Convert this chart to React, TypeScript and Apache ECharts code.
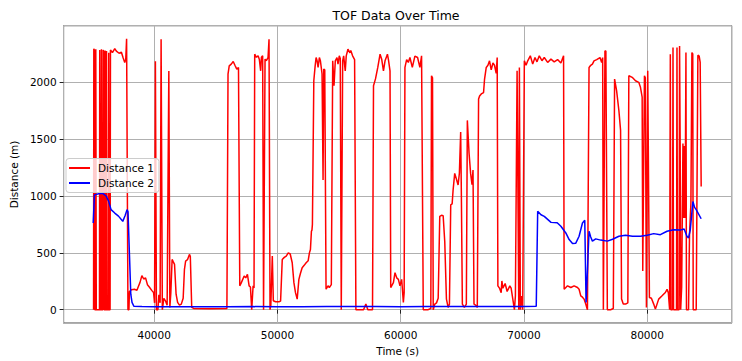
import React, { useEffect, useRef } from "react";
import * as echarts from "echarts";

const distance1: [number, number][] = [
  [35080, 0], [35100, 2295], [35160, 2280], [35180, 0], [35240, 0], [35260, 2290], [35300, 0],
  [35560, 0], [35580, 2285], [35640, 0], [35700, 0], [35720, 2290], [35760, 0], [35840, 0],
  [35860, 2285], [35900, 2270], [35930, 0], [35990, 0], [36010, 2280], [36050, 0], [36110, 0],
  [36130, 2275], [36170, 0], [36290, 0], [36310, 2260], [36340, 0], [36420, 0], [36450, 2285],
  [36610, 2262], [36800, 2297], [36930, 2275], [37150, 2256], [37340, 2265], [37470, 2218],
  [37610, 2175], [37690, 2200], [37760, 2384], [37870, 0], [37950, 0], [37990, 160], [38150, 175],
  [38400, 180], [38600, 170], [38700, 200], [38850, 240], [39000, 300], [39150, 270], [39300, 280],
  [39450, 220], [39600, 200], [39800, 170], [39950, 150], [40030, 60], [40097, 2185], [40180, 0],
  [40300, 0], [40380, 130], [40480, 60], [40560, 2378], [40660, 0], [40780, 100], [40900, 80],
  [41050, 40], [41187, 2100], [41270, 20], [41350, 150], [41453, 442], [41550, 420], [41650, 398],
  [41776, 136], [41900, 64], [42050, 40], [42200, 49], [42350, 100], [42454, 355], [42550, 428],
  [42700, 440], [42858, 486], [42930, 470], [43044, 20], [43200, 11], [44500, 8], [45900, 11],
  [45990, 2073], [46088, 2145], [46250, 2160], [46411, 2183], [46550, 2150], [46700, 2116],
  [46839, 2130], [46944, 210], [47081, 240], [47299, 297], [47428, 280], [47565, 311], [47702, 210],
  [47808, 200], [47913, 0], [48025, 210], [48100, 190], [48155, 2247], [48292, 2220], [48429, 2233],
  [48534, 2200], [48639, 2101], [48700, 2220], [48800, 2233], [48873, 0], [48994, 2204],
  [49099, 2190], [49237, 2218], [49317, 2378], [49398, 0], [49463, 40], [49584, 472], [49665, 79],
  [49850, 70], [50125, 70], [50254, 75], [50391, 442], [50553, 460], [50714, 472], [50876, 500],
  [51037, 490], [51199, 413], [51336, 238], [51465, 150], [51602, 93], [51740, 267], [51869, 320],
  [52006, 369], [52168, 390], [52329, 413], [52491, 430], [52596, 500], [52677, 530], [52757, 690],
  [52800, 700], [52838, 750], [52951, 2014], [53056, 2140], [53137, 2218], [53217, 2190],
  [53298, 2131], [53403, 2218], [53484, 2190], [53621, 2073], [53702, 1141], [53758, 2116],
  [53839, 2110], [53944, 180], [54105, 210], [54210, 195], [54372, 220], [54485, 2189],
  [54590, 1970], [54695, 2189], [54832, 2218], [54913, 2160], [55018, 2233], [55098, 2210],
  [55179, 0], [55292, 2189], [55373, 2233], [55502, 2101], [55583, 2233], [55720, 2291],
  [55882, 2260], [55950, 2280], [56099, 2233], [56261, 2200], [56366, 0], [56987, 0], [57174, 49],
  [57335, 0], [57714, 0], [57795, 1970], [57956, 2030], [58142, 2131], [58328, 2247], [58465, 2200],
  [58602, 2101], [58731, 2189], [58925, 2247], [59006, 2200], [59135, 2101], [59192, 195],
  [59410, 238], [59539, 326], [59676, 280], [59813, 267], [59942, 210], [60080, 267], [60217, 64],
  [60282, 150], [60346, 2131], [60484, 2200], [60621, 2175], [60750, 2218], [60944, 2131],
  [61154, 2230], [61372, 2218], [61558, 2131], [61695, 2233], [61832, 0], [62236, 0], [62446, 10],
  [62502, 2058], [62583, 2040], [62640, 0], [62769, 49], [62906, 60], [63043, 100], [63172, 821],
  [63310, 830], [63447, 826], [63576, 600], [63713, 93], [63851, 20], [63956, 49], [64061, 922],
  [64174, 930], [64254, 1053], [64384, 1199], [64521, 1150], [64658, 1097], [64763, 1200],
  [64868, 1563], [64925, 1000], [65005, 49], [65167, 20], [65328, 49], [65409, 1665], [65546, 1380],
  [65675, 1199], [65788, 1100], [65869, 1228], [65950, 49], [66079, 40], [66216, 20], [66321, 1854],
  [66402, 1880], [66539, 1898], [66725, 1910], [66806, 2029], [66943, 2131], [67080, 2150],
  [67209, 2189], [67347, 2110], [67484, 2170], [67613, 2150], [67750, 2080], [67831, 2218],
  [67887, 210], [68016, 190], [68154, 150], [68211, 253], [68291, 190], [68477, 230], [68638, 160],
  [68856, 210], [68962, 190], [69099, 93], [69228, 0], [69309, 120], [69446, 2101], [69502, 2101],
  [69583, 0], [69632, 2131], [69712, 0], [69793, 120], [69900, 0], [70035, 2189], [70172, 2150],
  [70309, 2189], [70519, 2233], [70713, 2160], [70899, 2218], [71060, 2180], [71246, 2233],
  [71464, 2190], [71651, 2218], [71925, 2175], [72192, 2204], [72458, 2180], [72732, 2200],
  [72999, 2170], [73217, 2233], [73265, 180], [73539, 210], [73806, 195], [74072, 210], [74347, 195],
  [74476, 180], [74613, 122], [74751, 110], [74880, 93], [75017, 50], [75154, 0], [75284, 2131],
  [75421, 2150], [75558, 2160], [75687, 2189], [75905, 2200], [76172, 2218], [76309, 2175],
  [76390, 2218], [76446, 0], [76575, 2276], [76650, 2276], [76769, 0], [77035, 0], [77253, 10],
  [77358, 2029], [77520, 1927], [77706, 1752], [77843, 1577], [77923, 93], [78061, 49], [78246, 49],
  [78432, 60], [78513, 2058], [78787, 2044], [79053, 2014], [79320, 2000], [79457, 1956],
  [79594, 1869], [79643, 341], [79699, 341], [79780, 2058], [79850, 2040], [79941, 20],
  [80046, 2101], [80184, 107], [80345, 100], [80531, 49], [80668, 5], [80935, 93], [81209, 122],
  [81476, 151], [81613, 180], [81718, 150], [81823, 0], [81880, 2247], [81920, 0], [82050, 0],
  [82097, 2306], [82140, 0], [82380, 0], [82420, 2306], [82460, 0], [82590, 0], [82630, 2320],
  [82680, 1418], [82720, 0], [82800, 200], [82904, 1461], [82953, 806], [83000, 1440], [83060, 806],
  [83090, 1000], [83147, 2262], [83190, 0], [83357, 0], [83437, 660], [83550, 937], [83631, 2262],
  [83700, 2250], [83736, 0], [83980, 0], [84116, 2239], [84221, 2230], [84302, 2175], [84383, 1083],
];

const distance2: [number, number][] = [
  [35050, 762], [35150, 1010], [35500, 1020], [35800, 1025], [36100, 1000], [36300, 955],
  [36500, 880], [36800, 850], [37100, 823], [37450, 777], [37650, 830], [37796, 880], [37876, 860],
  [38100, 136], [38200, 64], [38350, 30], [39000, 27], [40000, 26], [42000, 26], [44000, 25],
  [46000, 26], [48000, 27], [50000, 26], [52000, 25], [54000, 27], [56000, 28], [58000, 27],
  [60000, 26], [62000, 28], [64000, 27], [66000, 28], [68000, 28], [70000, 27], [71000, 30],
  [71117, 865], [71384, 835], [71650, 821], [72200, 768], [72700, 765], [73000, 734], [73400, 675],
  [73670, 617], [73944, 582], [74210, 585], [74477, 646], [74751, 762], [74937, 786], [75042, 64],
  [75138, 300], [75284, 690], [75420, 640], [75558, 603], [75825, 623], [76228, 612], [76769, 603],
  [77197, 620], [77706, 646], [78246, 655], [78811, 646], [79457, 646], [80000, 655], [80531, 669],
  [81072, 660], [81613, 690], [82146, 704], [82687, 700], [83000, 710], [83228, 646], [83357, 631],
  [83495, 700], [83713, 952], [83850, 900], [83979, 880], [84383, 800],
];

const FONT = "DejaVu Sans";

export default function App() {
  const ref = useRef<HTMLDivElement>(null);
  useEffect(() => {
    const chart = echarts.init(ref.current!, null, { renderer: "svg" });
    chart.setOption({
      animation: false,
      backgroundColor: "#ffffff",
      textStyle: { fontFamily: FONT },
      graphic: [
        {
          type: "text",
          x: 396,
          y: 15,
          style: {
            text: "TOF Data Over Time",
            fontFamily: FONT,
            fontSize: 12.5,
            fill: "#000",
            textAlign: "center",
            textVerticalAlign: "middle",
          },
        },
      ],
      grid: {
        left: 60.3,
        right: 10.3,
        top: 25.7,
        bottom: 35.3,
        show: true,
        borderColor: "#222",
        borderWidth: 1,
        backgroundColor: "transparent",
      },
      legend: {
        orient: "vertical",
        left: 66,
        top: 158.5,
        itemWidth: 21,
        itemHeight: 2,
        itemGap: 2,
        padding: [3, 5, 3, 3],
        backgroundColor: "rgba(255,255,255,0.8)",
        borderColor: "#cccccc",
        borderWidth: 1,
        borderRadius: 3,
        textStyle: { fontFamily: FONT, fontSize: 10.5, color: "#000", lineHeight: 13, padding: [0, 0, 0, 3] },
        data: [
          { name: "Distance 1", icon: "rect" },
          { name: "Distance 2", icon: "rect" },
        ],
      },
      xAxis: {
        type: "value",
        min: 32650,
        max: 86860,
        splitNumber: 5,
        axisLine: { show: false },
        axisTick: { show: true, length: 4, lineStyle: { color: "#222" } },
        axisLabel: {
          showMinLabel: false,
          showMaxLabel: false,
          formatter: (v: number) => String(v),
          fontFamily: FONT,
          fontSize: 10.5,
          color: "#000",
          margin: 6,
        },
        splitLine: { show: true, lineStyle: { color: "#b0b0b0", width: 1 } },
        name: "Time (s)",
        nameLocation: "middle",
        nameGap: 20,
        nameTextStyle: { fontFamily: FONT, fontSize: 10.5, color: "#000", verticalAlign: "top" },
      },
      yAxis: {
        type: "value",
        min: -118,
        max: 2498,
        splitNumber: 5,
        axisLine: { show: false },
        axisTick: { show: true, length: 4, lineStyle: { color: "#222" } },
        axisLabel: {
          showMinLabel: false,
          showMaxLabel: false,
          formatter: (v: number) => String(v),
          fontFamily: FONT,
          fontSize: 10.5,
          color: "#000",
          margin: 7,
        },
        splitLine: { show: true, lineStyle: { color: "#b0b0b0", width: 1 } },
        name: "Distance (m)",
        nameLocation: "middle",
        nameGap: 37,
        nameRotate: 90,
        nameTextStyle: { fontFamily: FONT, fontSize: 10.5, color: "#000" },
      },
      series: [
        {
          name: "Distance 1",
          type: "line",
          data: distance1,
          showSymbol: false,
          symbol: "none",
          lineStyle: { color: "#ff0000", width: 1.5 },
          itemStyle: { color: "#ff0000" },
        },
        {
          name: "Distance 2",
          type: "line",
          data: distance2,
          showSymbol: false,
          symbol: "none",
          lineStyle: { color: "#0000ff", width: 1.5 },
          itemStyle: { color: "#0000ff" },
        },
      ],
    });
    return () => chart.dispose();
  }, []);
  return (
    <div
      ref={ref}
      style={{ position: "absolute", left: 0, top: 0, width: 742, height: 361, background: "#fff" }}
    />
  );
}
